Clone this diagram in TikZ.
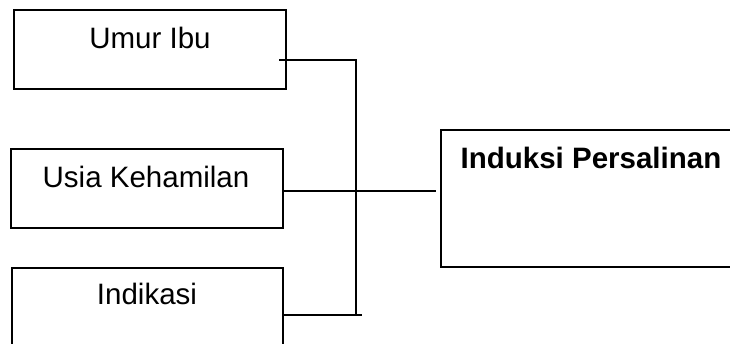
\documentclass[tikz,border=0pt]{standalone}
\usepackage{fontspec}
\setmainfont{Liberation Sans}
\begin{document}
\begin{tikzpicture}[x=1pt,y=-1pt,
  box/.style={draw,line width=1.3pt,rectangle,inner sep=0pt},
  lbl/.style={inner sep=0pt,font=\fontsize{29.5}{35}\selectfont},
  conn/.style={line width=1.3pt}]
\useasboundingbox (0,0) rectangle (730,344);
\begin{scope}
\clip (0,0) rectangle (730,344);
\node[box,minimum width=272pt,minimum height=79pt] (b1) at (150,49.5) {};
\node[box,minimum width=272pt,minimum height=79pt] (b2) at (147,188.5) {};
\node[box,minimum width=271pt,minimum height=84pt] (b3) at (147.5,310) {};
\node[box,minimum width=304pt,minimum height=137pt] (r) at (593,198.5) {};
\node[lbl] (t1) at (150,38) {\vphantom{I}Umur Ibu};
\node[lbl] (t2) at (146,177) {\vphantom{I}Usia Kehamilan};
\node[lbl] (t3) at (147,294) {\vphantom{I}Indikasi};
\node[lbl,font=\fontsize{29.5}{35}\selectfont\bfseries] (tr) at (591,158) {\vphantom{I}Induksi Persalinan};
\coordinate (s1) at (279,60);
\coordinate (j1) at (356,60);
\coordinate (j3) at (356,315);
\coordinate (e3) at (362,315);
\coordinate (e2) at (436,191);
\draw[conn] (s1) -- (j1) -- (j3);
\draw[conn] (b3.east |- j3) -- (e3);
\draw[conn] (b2.east |- e2) -- (e2);
\end{scope}
\end{tikzpicture}
\end{document}
